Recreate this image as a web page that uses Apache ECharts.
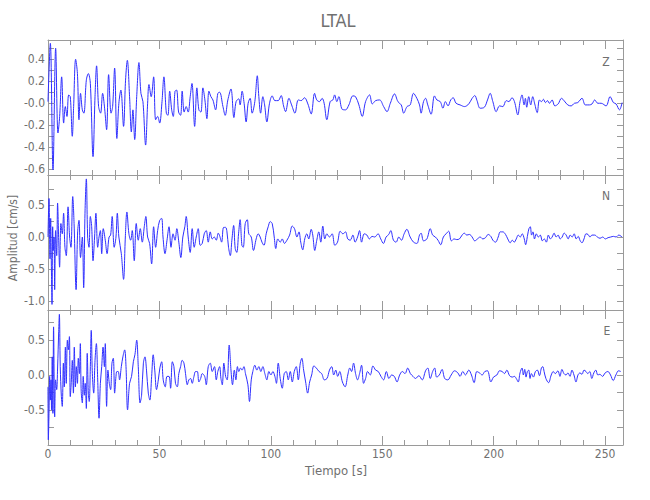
<!DOCTYPE html>
<html><head><meta charset="utf-8">
<script src="https://cdn.jsdelivr.net/npm/echarts@6/dist/echarts.min.js"></script>
<style>html,body{margin:0;padding:0;background:#fff}#c{width:650px;height:500px}</style>
</head><body><div id="c"></div>
<script>
// ---- Data ----
const tZ=[0,1.05,2.24,3.44,4.48,5.23,6.13,7.03,7.77,8.52,9.27,10.0,10.9,11.5,12.4,13.2,13.9,14.6,15.4,16.1,
17.2,18.1,19.0,20.2,21.1,21.8,22.7,23.6,24.5,25.4,26.3,27.2,28.3,29.0,29.9,30.9,31.8,32.7,33.9,34.8,
35.6,36.6,37.4,38.1,38.9,39.8,40.8,41.7,42.6,43.8,44.7,45.3,46.3,47.4,48.3,49.2,50.1,51.1,52.0,53.1,
53.8,54.6,55.5,56.2,57.0,57.7,58.6,59.5,60.2,61.1,62.0,62.9,63.8,64.6,65.8,66.8,67.7,68.6,69.5,70.4,
71.3,72.2,73.1,74.0,75.2,76.2,77.0,78.5,79.5,80.7,82.1,83.4,84.4,85.6,86.2,87.1,88.0,88.9,89.8,90.7,
91.6,92.8,93.9,94.6,95.4,96.4,97.2,98.2,99.4,100.6,101.8,103.3,104.6,105.7,106.6,108.1,109.3,110.8,112.3,113.6,
115.1,116.6,118.1,119.6,120.6,121.8,123.0,123.9,125.1,126.6,127.8,128.6,129.6,130.5,132.0,133.5,135.0,136.8,138.0,139.5,
141.0,142.5,144.3,145.5,147.0,148.8,150.6,152.1,153.6,155.5,157.0,158.5,159.6,161.1,162.5,164.0,165.5,166.7,167.4,168.5,
169.4,170.4,171.9,173.4,174.5,176.0,177.2,178.3,179.5,180.7,181.8,183.1,184.9,186.9,188.8,190.3,191.5,192.5,193.9,195.8,
197.2,198.4,199.6,201.1,202.6,204.1,205.6,206.8,208.2,209.3,210.8,211.8,212.7,213.6,214.2,214.8,215.7,216.6,217.5,218.4,
219.5,220.5,221.4,222.3,223.2,224.1,225.0,226.2,227.4,228.9,230.4,231.7,233.2,234.7,236.2,237.7,239.6,241.1,242.9,244.1,
245.3,246.7,248.2,250.4,252.2,253.7,254.9,256.4,257.6];
const vZ=[0.015,0.545,-0.606,0.5,-0.27,-0.12,0.24,-0.18,-0.03,-0.12,0.075,0.06,-0.3,-0.03,0.4,0.27,-0.15,0.09,-0.06,-0.09,
0.21,0.27,0.18,-0.485,0.06,0.34,-0.03,-0.09,0.09,-0.045,-0.24,0.26,-0.09,-0.03,0.32,-0.32,0.0,0.12,-0.21,0.21,
0.39,0.06,-0.26,-0.06,-0.33,0.06,0.37,0.09,0.015,-0.38,0.0,0.17,0.06,0.24,-0.15,-0.12,-0.18,0.0,0.24,-0.09,
-0.11,0.11,-0.06,-0.12,0.11,0.12,-0.08,-0.11,0.11,-0.08,-0.03,-0.08,0.06,0.18,-0.21,0.14,-0.06,-0.08,0.14,0.03,
-0.14,0.11,0.06,0.03,-0.06,0.09,0.1,-0.03,-0.11,0.03,0.13,-0.13,0.015,0.04,-0.015,0.11,0,-0.17,0,0.045,
-0.09,0.015,0.25,0.06,-0.09,0.06,-0.015,-0.17,0,0.067,0.024,0.024,0.07,-0.024,-0.076,0.045,-0.015,-0.09,0.03,0.024,
0.05,-0.006,-0.097,0.09,0.03,0.015,0.045,0,-0.15,0.015,0.03,0.076,0.015,0.06,-0.055,-0.06,-0.015,0.067,0.06,-0.015,
-0.12,0.015,0.076,-0.006,0.024,0.03,-0.03,-0.076,0,0.085,0.015,-0.015,-0.09,-0.03,-0.015,0.09,0.045,-0.015,-0.09,0.015,
0.045,-0.015,-0.1,0.067,0.03,0.015,-0.045,0.015,-0.024,0.03,0.05,0,-0.015,-0.03,-0.006,0.045,0.07,0.024,-0.045,-0.036,
0.03,0.09,0.015,-0.076,-0.024,-0.03,0.024,0.015,0.05,0.015,-0.106,0.015,0.076,-0.015,0.045,-0.036,0.06,-0.015,0.06,-0.006,
-0.085,0.03,0.015,0.036,0.006,0.024,0,0.03,-0.024,-0.006,0.045,0.02,-0.015,-0.024,0,0.006,0.045,-0.015,-0.015,-0.006,
0.03,0,0,-0.024,0.06,0.006,-0.006,-0.06,0.006];

const tN=[0,0.45,0.9,1.2,1.5,1.8,2.1,2.4,2.7,3.0,3.4,3.9,4.3,4.8,5.2,5.8,6.4,7.0,7.6,8.2,
9.0,9.7,10.3,11.1,11.7,12.6,13.3,13.9,14.6,15.4,16.0,16.6,17.2,17.8,18.4,19.0,19.6,20.2,20.9,21.5,
22.3,22.9,23.5,24.1,24.8,25.7,26.5,27.4,28.1,28.8,29.7,30.5,31.1,31.8,32.9,33.9,34.7,35.4,36.3,37.1,
37.8,38.7,39.6,40.5,41.4,42.3,43.2,43.9,44.7,45.6,46.5,47.4,48.3,49.2,50.1,51.0,51.6,52.5,53.4,54.3,
55.2,56.1,57.0,57.8,58.7,59.6,60.5,61.4,62.0,62.9,63.8,64.7,65.6,66.5,67.4,68.3,69.2,70.1,71.0,71.9,
72.8,73.7,74.6,75.5,76.4,77.0,
77.9,78.8,79.7,80.3,81.0,81.8,82.5,83.3,84.0,84.7,85.5,86.2,87.0,87.6,88.5,89.4,90.1,91.2,92.2,93.4,
94.3,95.2,96.0,96.9,97.9,98.8,99.7,100.6,101.5,102.2,103.1,104.2,105.1,106.1,107.2,108.4,109.6,110.6,111.7,112.6,
113.4,114.3,115.2,116.1,117.0,118.1,118.8,119.7,120.6,121.5,122.4,123.3,124.2,125.1,126.3,127.5,128.7,129.9,131.1,132.3,
133.5,134.5,135.6,136.8,137.8,138.9,139.8,140.7,141.9,143.1,144.2,145.4,146.6,148.1,149.3,150.5,151.7,152.9,153.8,155.0,
156.2,157.4,158.6,159.8,161.0,162.5,164.0,165.5,166.7,
167.4,168.5,170.0,171.5,172.6,173.8,175.0,176.2,177.4,178.6,179.8,181.0,182.2,183.4,184.6,185.8,186.8,187.9,189.1,190.3,
191.5,192.7,193.9,195.1,196.3,197.5,198.7,199.6,200.8,202.0,202.9,204.1,205.3,206.3,207.4,208.3,209.2,210.1,211.0,211.9,
212.8,213.7,214.3,215.2,215.8,216.4,217.0,217.6,218.3,219.1,220.0,220.9,221.8,222.7,223.6,224.5,225.4,226.2,227.1,228.0,
228.9,229.8,230.7,231.6,232.5,233.4,234.3,235.2,236.1,237.0,237.9,238.8,239.6,240.5,241.4,242.3,243.2,244.1,245.3,246.5,
247.7,248.9,250.1,251.3,252.5,253.7,254.9,256.1,257.6];
const vN=[0,0.6,-0.34,0.29,-0.42,-1.05,0.16,-0.21,0,-0.82,0.1,-0.29,0.53,-0.05,-0.47,0.21,0.05,0.37,-0.16,-0.29,
0.47,0,-0.16,0.63,0.21,-0.82,0.08,0.26,-0.32,0,-0.79,0.37,0.905,0,-0.16,0.32,0.16,-0.37,0,0.37,
-0.16,0,0.1,-0.26,0.13,-0.05,-0.26,0,0.03,0.32,-0.16,0,0.37,0,-0.26,-0.66,0,0.39,0.05,-0.05,
0.1,-0.37,0.21,-0.05,0.13,-0.08,0.16,0.32,0,-0.1,-0.42,0.16,-0.16,0.1,0.26,0.29,0,-0.26,-0.05,0.16,
-0.16,0.05,-0.05,0.13,-0.08,-0.32,0,0.16,0.32,0,-0.24,0.13,-0.16,0,0.13,-0.13,-0.1,0.05,0.1,-0.08,
0.08,-0.03,0,-0.05,0.06,0.02,
-0.08,0.15,0.15,0.08,-0.16,-0.29,-0.05,0.18,-0.18,-0.24,0.05,0.27,-0.13,-0.16,0.21,0.27,0.05,0,-0.21,-0.03,
0.05,0,-0.08,-0.13,0.05,0.16,0.24,0.21,0,-0.18,-0.03,-0.08,-0.03,-0.1,-0.05,0.03,0.17,0.13,0,0.08,
-0.08,-0.2,-0.03,0.05,-0.03,0.12,0.03,-0.21,-0.05,0.08,-0.08,0.17,-0.03,0.05,0,0.05,-0.13,-0.08,0.09,0.05,
0.08,-0.03,-0.05,0.03,-0.08,0,0.1,-0.08,0.05,0.03,-0.03,0.01,0,0.05,-0.03,-0.1,0,0.04,0.1,-0.05,
-0.08,0,-0.05,0.05,0.12,0,-0.08,-0.1,0.03,
0.06,-0.06,-0.03,0.13,0.03,0,-0.05,-0.12,0,0.05,0.09,-0.06,-0.03,-0.04,-0.03,0.03,0.06,0.03,0.04,0,
-0.06,-0.03,0,-0.03,-0.01,0.04,0.01,-0.05,-0.08,0,0.08,0.08,0.04,-0.03,-0.09,-0.05,-0.08,-0.03,0.03,0,
0.05,-0.03,-0.12,0.03,0.13,0.16,0.03,0.08,-0.03,0.05,0,0.03,-0.06,-0.03,-0.08,0.03,-0.03,0,0.06,0,
0.03,-0.03,0,0.06,0.03,-0.03,0.03,0,0.05,-0.03,0.01,-0.06,-0.09,-0.03,0.05,0.04,0,0.03,0.03,0,
-0.02,0,-0.03,-0.01,0,0.01,0,0.03,0];

const tE=[0,0.15,0.45,0.75,1.05,1.35,1.6,1.9,2.2,2.5,3.0,3.4,3.9,4.3,4.8,5.1,5.5,6.0,6.4,6.9,
7.3,7.8,8.2,8.7,9.1,9.6,10.0,10.5,10.9,11.4,11.8,12.3,12.7,13.2,13.6,14.1,14.5,14.9,15.4,15.8,
16.3,16.7,17.2,17.6,18.1,18.5,19.0,19.4,19.9,20.5,21.1,21.7,22.3,22.9,23.5,24.1,24.7,25.3,25.7,26.3,
26.9,27.5,28.1,28.7,29.3,29.9,30.5,30.9,31.5,32.1,32.9,33.6,34.4,35.0,35.7,36.6,37.5,38.3,39.0,39.8,
40.5,41.3,42.0,42.8,43.5,44.2,45.0,45.7,46.5,47.2,47.9,48.7,49.5,50.2,51.0,51.7,52.6,53.4,54.3,55.0,
55.8,56.5,57.2,58.0,58.7,59.5,60.2,61.0,61.7,62.5,63.2,64.0,64.7,65.5,66.2,67.0,67.7,68.5,69.2,70.3,
71.0,71.9,72.8,73.7,74.7,75.5,76.2,77.0,
77.6,78.2,78.9,79.7,80.4,81.3,82.1,82.8,83.6,84.3,85.0,85.6,86.4,87.1,87.9,88.6,89.7,90.4,91.2,91.9,
92.8,93.7,94.6,95.5,96.4,97.3,98.2,99.1,100.0,100.9,101.8,102.5,103.3,104.2,105.1,106.0,106.9,107.8,108.7,109.6,
110.5,111.4,112.3,113.2,113.9,114.7,115.6,116.5,117.4,118.3,119.3,120.4,121.6,122.8,124.0,125.2,126.3,127.3,128.2,129.1,
130.0,130.9,132.1,133.3,134.5,135.4,136.2,137.1,138.0,138.9,139.8,140.7,141.6,142.5,143.4,144.6,145.8,147.0,148.2,149.4,
150.6,151.8,153.0,154.2,155.4,156.6,157.8,159.0,160.2,161.4,162.6,163.8,
164.9,166.4,167.9,169.4,170.4,171.5,172.6,173.5,174.4,175.6,176.8,178.0,179.4,180.9,182.4,183.9,184.9,186.1,187.3,188.8,
190.0,191.2,192.4,193.6,194.8,196.0,197.2,198.7,199.9,201.4,202.6,203.8,204.8,205.9,207.1,208.3,209.3,210.1,211.0,211.8,
212.7,213.3,213.9,214.5,215.1,215.7,216.3,216.9,217.8,218.7,219.6,220.5,221.4,222.0,222.6,223.4,224.6,225.8,226.7,227.6,
228.8,229.7,230.6,231.5,232.4,233.3,234.2,235.1,236.0,236.9,237.8,238.7,239.6,240.5,241.4,242.2,243.1,244.0,244.9,245.8,
246.7,247.6,248.8,250.0,251.2,252.4,253.6,254.8,256.0,257.0];
const vE=[-0.17,-0.93,-0.55,-0.02,-0.36,-0.07,-0.5,0.26,-0.55,0.69,-0.6,-0.07,-0.21,0.1,0.62,0.87,0.12,-0.31,-0.45,0.17,
-0.17,0.4,-0.12,0.5,0.36,0.55,-0.31,-0.07,0.21,-0.26,0.4,-0.17,0.12,-0.12,0.24,0.02,0.45,-0.24,-0.4,-0.02,
-0.29,-0.12,-0.48,0.31,-0.26,-0.38,0.12,0.64,0.02,-0.26,0.21,0.45,-0.07,-0.62,-0.12,0.12,0.4,0.12,0.45,-0.45,
0.07,-0.12,-0.21,0.17,0.24,-0.26,-0.02,0.05,0.05,-0.07,0.12,0.26,0.36,0.12,-0.5,-0.12,-0.02,0.19,0.29,0.5,
0.12,-0.4,-0.29,0.17,0.26,0.07,-0.26,-0.36,-0.02,0.29,0.07,-0.21,-0.07,0.1,0.19,-0.07,-0.17,-0.02,-0.02,-0.19,
0.19,0.12,-0.12,-0.17,0.02,0.12,0.21,0.17,0.02,-0.14,-0.07,-0.05,-0.12,-0.02,0.05,0.05,-0.1,-0.05,0.02,-0.02,
-0.14,0.12,0.17,0.05,0.12,-0.07,0.05,0.12,
-0.05,-0.14,0.17,-0.02,-0.07,0.43,0.07,-0.14,0.07,-0.07,0.12,0.05,0.1,0.07,0.12,0.02,-0.14,-0.38,-0.07,0.05,
0.14,0.07,0.12,0.05,0.12,0.02,-0.07,0.05,0,0.05,-0.02,-0.12,0.17,-0.05,-0.19,0.02,0.05,-0.07,0.05,-0.1,
0.05,0.12,-0.07,0.17,0.24,0.07,-0.1,-0.26,-0.1,0,0.13,0.1,0.05,0.02,-0.07,-0.05,0.07,0.12,0,0.07,
-0.02,0.05,-0.1,-0.17,0,0.1,0.05,0.17,0.02,-0.07,0.02,0.14,-0.12,-0.05,0.05,0,0.13,0.07,0.05,-0.02,
-0.07,0.05,-0.05,0,-0.02,-0.1,0,0.05,0.02,0.1,0.02,-0.02,
-0.05,-0.01,-0.07,0.06,0.1,-0.05,0.05,0.1,-0.03,0,0.08,-0.05,-0.07,0,0.06,0.03,-0.02,0.05,0,0.07,
0,-0.11,0.05,0.03,0,0.05,0.06,-0.1,-0.03,0,0.06,0.05,0.02,0.07,-0.01,-0.03,-0.02,-0.05,-0.1,0.03,
0.1,0,0.08,-0.03,0.05,0.07,-0.05,0.02,-0.03,0.05,0.07,-0.01,0.1,0.12,0.05,-0.05,-0.11,0,0.05,0.02,
0.06,-0.02,0.08,0.02,0,0.03,-0.02,0.07,0,-0.1,0,0.03,0.01,0.07,0.05,0.02,0.05,-0.05,0.03,0.07,
0,0.01,-0.02,0.03,0.05,0,-0.08,0,0.06,0.05];

// ---- Axis ticks / labels ----
const xMajor=[0,50,100,150,200,250];
const xMinor=[10,20,30,40,60,70,80,90,110,120,130,140,160,170,180,190,210,220,230,240];
const xRange=[0,258];
const zRange=[-0.652,0.575], nRange=[-1.137,0.966], eRange=[-1.004,0.932];
const zTicks=[-0.6,-0.5,-0.4,-0.3,-0.2,-0.1,0,0.1,0.2,0.3,0.4,0.5];
const zLabelVals=[-0.6,-0.4,-0.2,0,0.2,0.4];
const zLabelText=['-0.6','-0.4','-0.2','-0.0','0.2','0.4'];
const nTicks=[-1,-0.75,-0.5,-0.25,0,0.25,0.5,0.75];
const nLabelVals=[-1,-0.5,0,0.5];
const nLabelText=['-1.0','-0.5','0.0','0.5'];
const eTicks=[-0.75,-0.5,-0.25,0,0.25,0.5,0.75];
const eLabelVals=[-0.5,0,0.5];
const eLabelText=['-0.5','0.0','0.5'];
const compNames=['Z','N','E'];

// ---- Build chart ----
const FONT="'Liberation Sans Narrow','DejaVu Sans Condensed','Roboto Condensed','Liberation Sans',sans-serif";
const AX='#9a9a9a', TX='#707070', LINE='#2f2fff';
const panels=[
 {t:tZ,v:vZ,range:zRange,ticks:zTicks,lv:zLabelVals,lt:zLabelText},
 {t:tN,v:vN,range:nRange,ticks:nTicks,lv:nLabelVals,lt:nLabelText},
 {t:tE,v:vE,range:eRange,ticks:eTicks,lv:eLabelVals,lt:eLabelText}
];
const tops=[40,175,310];
const grid=tops.map(top=>({left:48,width:575,top:top,height:135}));
const xAxis=[], yAxis=[], series=[];
panels.forEach((p,g)=>{
  ['bottom','top'].forEach(pos=>{
    [[xMajor,9,true],[xMinor,5,false]].forEach(([vals,len,major])=>{
      xAxis.push({gridIndex:g,type:'value',min:xRange[0],max:xRange[1],position:pos,
        axisLine:{show:major,onZero:false,lineStyle:{color:AX,width:1}},
        axisTick:{show:true,inside:true,length:len,customValues:vals,lineStyle:{color:AX,width:1}},
        axisLabel:{show:(g===2&&pos==='bottom'&&major),customValues:xMajor,margin:3,color:TX,fontSize:12,fontFamily:FONT},
        splitLine:{show:false}});
    });
  });
  ['left','right'].forEach(pos=>{
    yAxis.push({gridIndex:g,type:'value',min:p.range[0],max:p.range[1],position:pos,
      axisLine:{show:true,onZero:false,lineStyle:{color:AX,width:1}},
      axisTick:{show:true,inside:true,length:6,customValues:p.ticks,lineStyle:{color:AX,width:1}},
      axisLabel:{show:pos==='left',customValues:p.lv,margin:3,color:TX,fontSize:12,fontFamily:FONT,
        formatter:(val)=>{const i=p.lv.findIndex(a=>Math.abs(a-val)<1e-9);return i>=0?p.lt[i]:'';}},
      splitLine:{show:false}});
  });
  const n=Math.min(p.t.length,p.v.length);
  const data=[];for(let i=0;i<n;i++)data.push([p.t[i],p.v[i]]);
  series.push({type:'line',xAxisIndex:g*4,yAxisIndex:g*2,data:data,showSymbol:false,symbol:'none',
    smooth:0.35,lineStyle:{color:LINE,width:1},silent:true,animation:false});
});
const txt=(text,x,y,size,rot)=>({type:'text',x:x,y:y,rotation:rot||0,silent:true,
  style:{text:text,fill:TX,font:size+'px '+FONT,align:'center',verticalAlign:'middle'}});
const graphic=[
  txt('LTAL',338,20,18),
  txt('Tiempo [s]',336,470,13),
  txt('Amplitud [cm/s]',13,238,12,Math.PI/2),
  txt(compNames[0],606,62,12),
  txt(compNames[1],606,196,12),
  txt(compNames[2],607,331,12)
];
const chart=echarts.init(document.getElementById('c'),null,{renderer:'svg'});
chart.setOption({animation:false,grid:grid,xAxis:xAxis,yAxis:yAxis,series:series,graphic:graphic});
</script>
</body></html>
